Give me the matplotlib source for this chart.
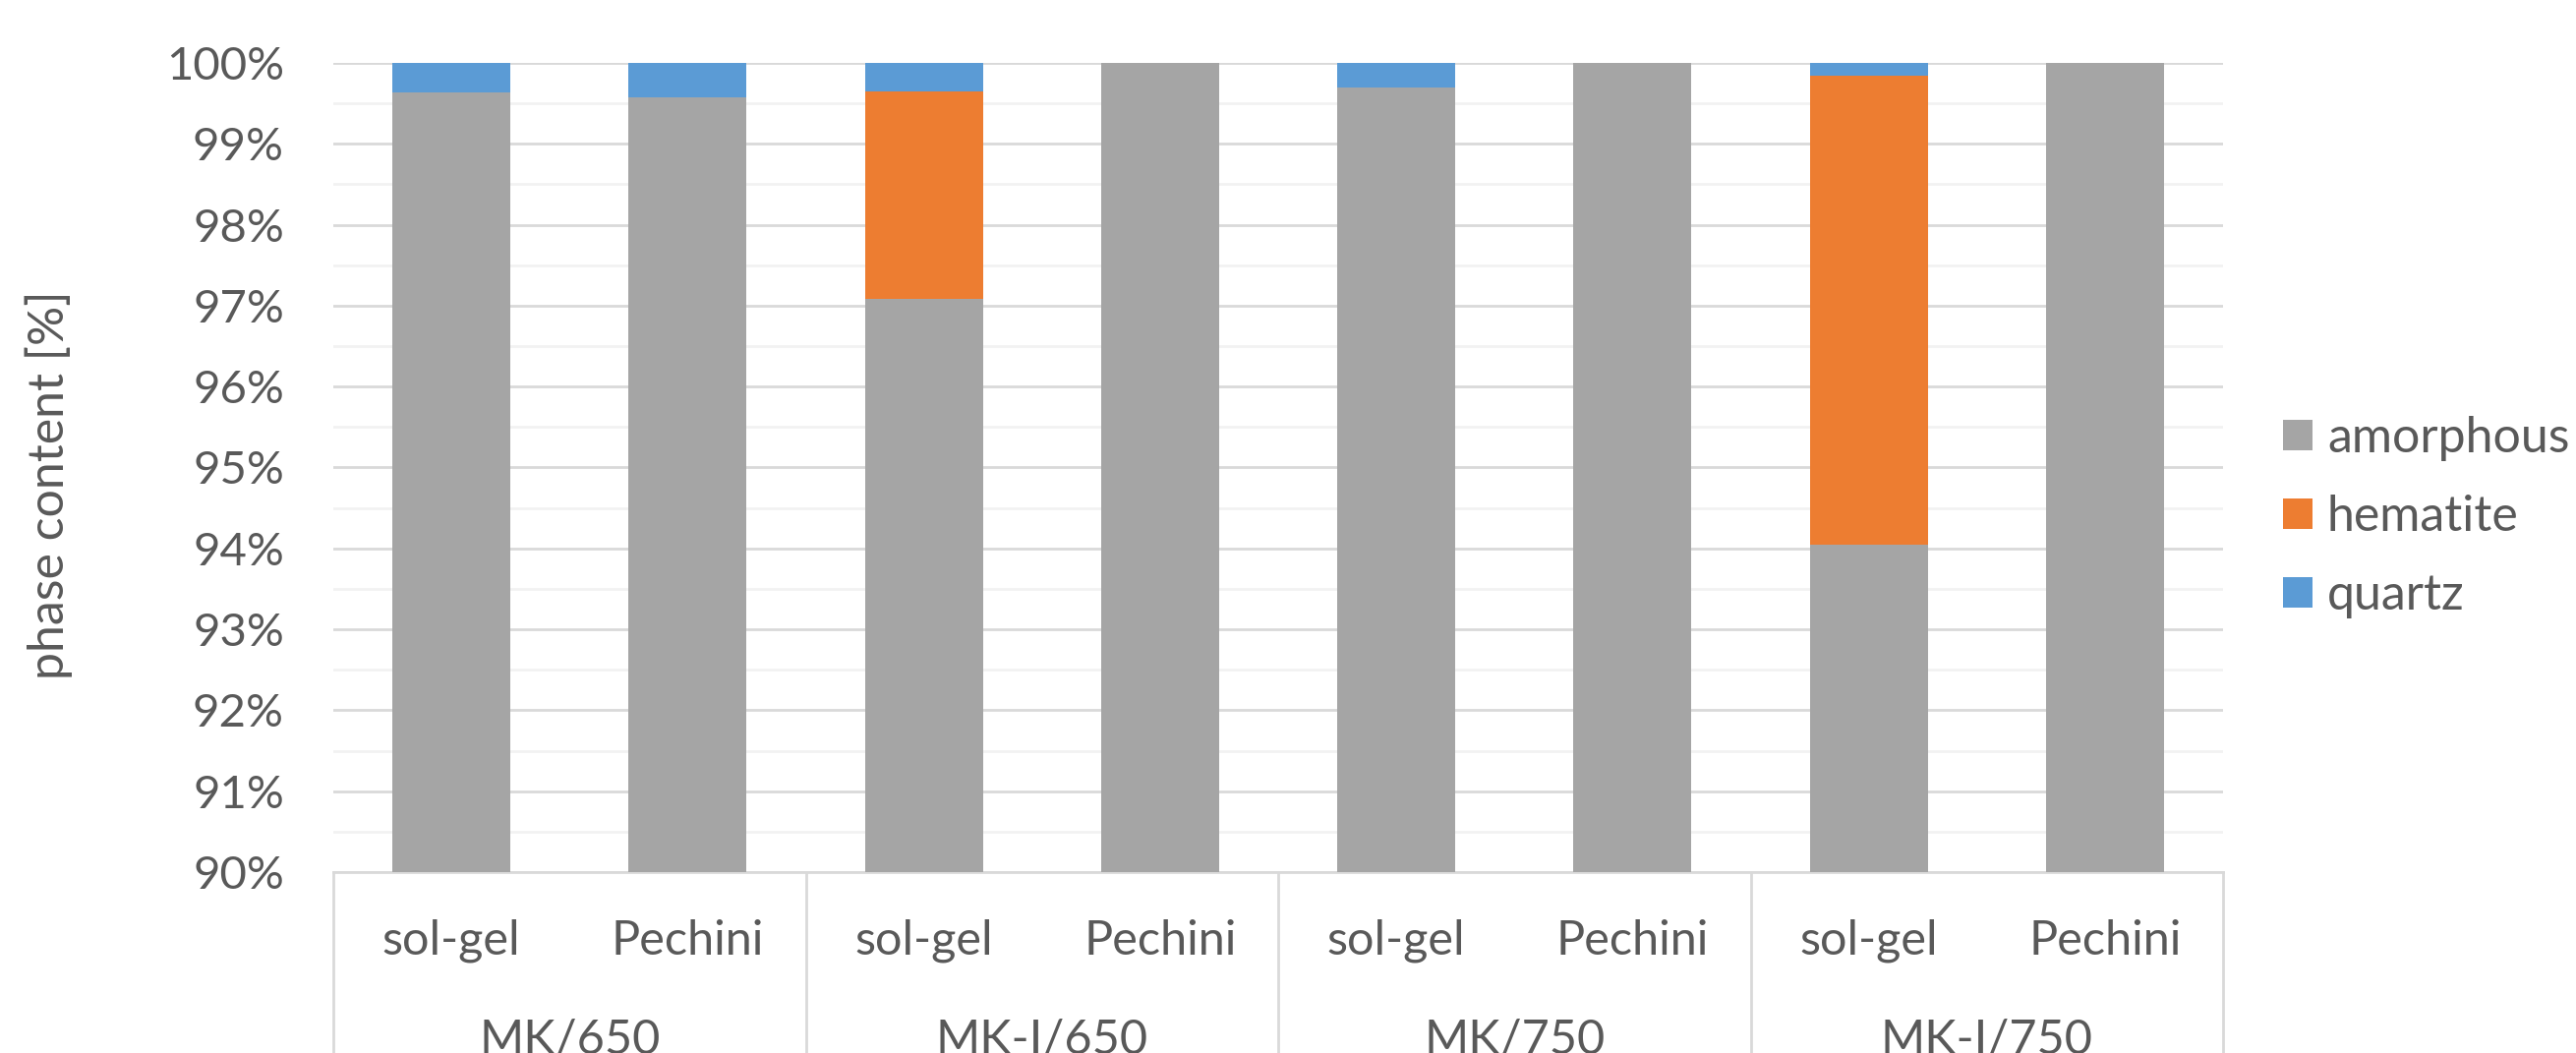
import matplotlib
matplotlib.use("Agg")
import matplotlib.pyplot as plt
from matplotlib.patches import Patch
from matplotlib.ticker import MultipleLocator, FuncFormatter

# data (percent)
methods = ["sol-gel", "Pechini"] * 4
groups = ["MK/650", "MK-I/650", "MK/750", "MK-I/750"]
amorphous = [99.63, 99.57, 97.08, 100.0, 99.70, 100.0, 94.05, 100.0]
hematite = [0.0, 0.0, 2.57, 0.0, 0.0, 0.0, 5.79, 0.0]
quartz = [0.37, 0.43, 0.35, 0.0, 0.30, 0.0, 0.16, 0.0]

c_grey = "#A5A5A5"
c_orange = "#ED7D31"
c_blue = "#5B9BD5"
txt = "#595959"
plt.rcParams['font.family'] = ['Lato', 'DejaVu Sans']

W, H = 2620, 1071
fig = plt.figure(figsize=(W / 100, H / 100), dpi=100)
left, right, top, bottom = 339, 2261, 64, 887
ax = fig.add_axes([left / W, 1 - bottom / H, (right - left) / W, (bottom - top) / H])

x = list(range(len(methods)))
bw = 0.5
ax.bar(x, amorphous, bw, color=c_grey, zorder=3)
ax.bar(x, hematite, bw, bottom=amorphous, color=c_orange, zorder=3)
b2 = [a + h for a, h in zip(amorphous, hematite)]
ax.bar(x, quartz, bw, bottom=b2, color=c_blue, zorder=3)

ax.set_xlim(-0.5, len(methods) - 0.5)
ax.set_ylim(90, 100)
ax.yaxis.set_major_locator(MultipleLocator(1))
ax.yaxis.set_minor_locator(MultipleLocator(0.5))
ax.yaxis.set_major_formatter(FuncFormatter(lambda v, p: f"{v:.0f}%"))
ax.grid(axis='y', which='major', color="#D9D9D9", linewidth=2, zorder=0)
ax.grid(axis='y', which='minor', color="#F2F2F2", linewidth=2, zorder=0)
ax.tick_params(axis='y', which='both', length=0, pad=36, labelsize=34, labelcolor=txt)
ax.set_xticks([])
for s in ["top", "right", "left"]:
    ax.spines[s].set_visible(False)
ax.spines["bottom"].set_color("#D9D9D9")
ax.spines["bottom"].set_linewidth(2)

# category labels below axis
tr = ax.get_xaxis_transform()
low = -(H - bottom) / (bottom - top)
for i, m in enumerate(methods):
    ax.text(i, -(957 - bottom) / (bottom - top), m, transform=tr, ha='center', va='center',
            fontsize=35, color=txt)
for g, name in enumerate(groups):
    ax.text(2 * g + 0.5, -(1058 - bottom) / (bottom - top), name, transform=tr, ha='center',
            va='center', fontsize=35, color=txt, clip_on=False)
for d in range(len(groups) + 1):
    ax.plot([2 * d - 0.5, 2 * d - 0.5], [0, low], transform=tr, color="#D9D9D9",
            linewidth=2, clip_on=False)

fig.text(50 / W, 1 - 493 / H, "phase content [%]", rotation=90, ha='center', va='center',
         fontsize=36, color=txt)

handles = [Patch(facecolor=c_grey), Patch(facecolor=c_orange), Patch(facecolor=c_blue)]
fig.legend(handles, ["amorphous", "hematite", "quartz"], loc='center left',
           bbox_to_anchor=(2322 / W, 1 - 526 / H), frameon=False, fontsize=36,
           labelcolor=txt, handlelength=0.6, handleheight=0.6, handletextpad=0.3,
           labelspacing=0.68, borderpad=0, borderaxespad=0)

fig.savefig("out.png", dpi=100)
